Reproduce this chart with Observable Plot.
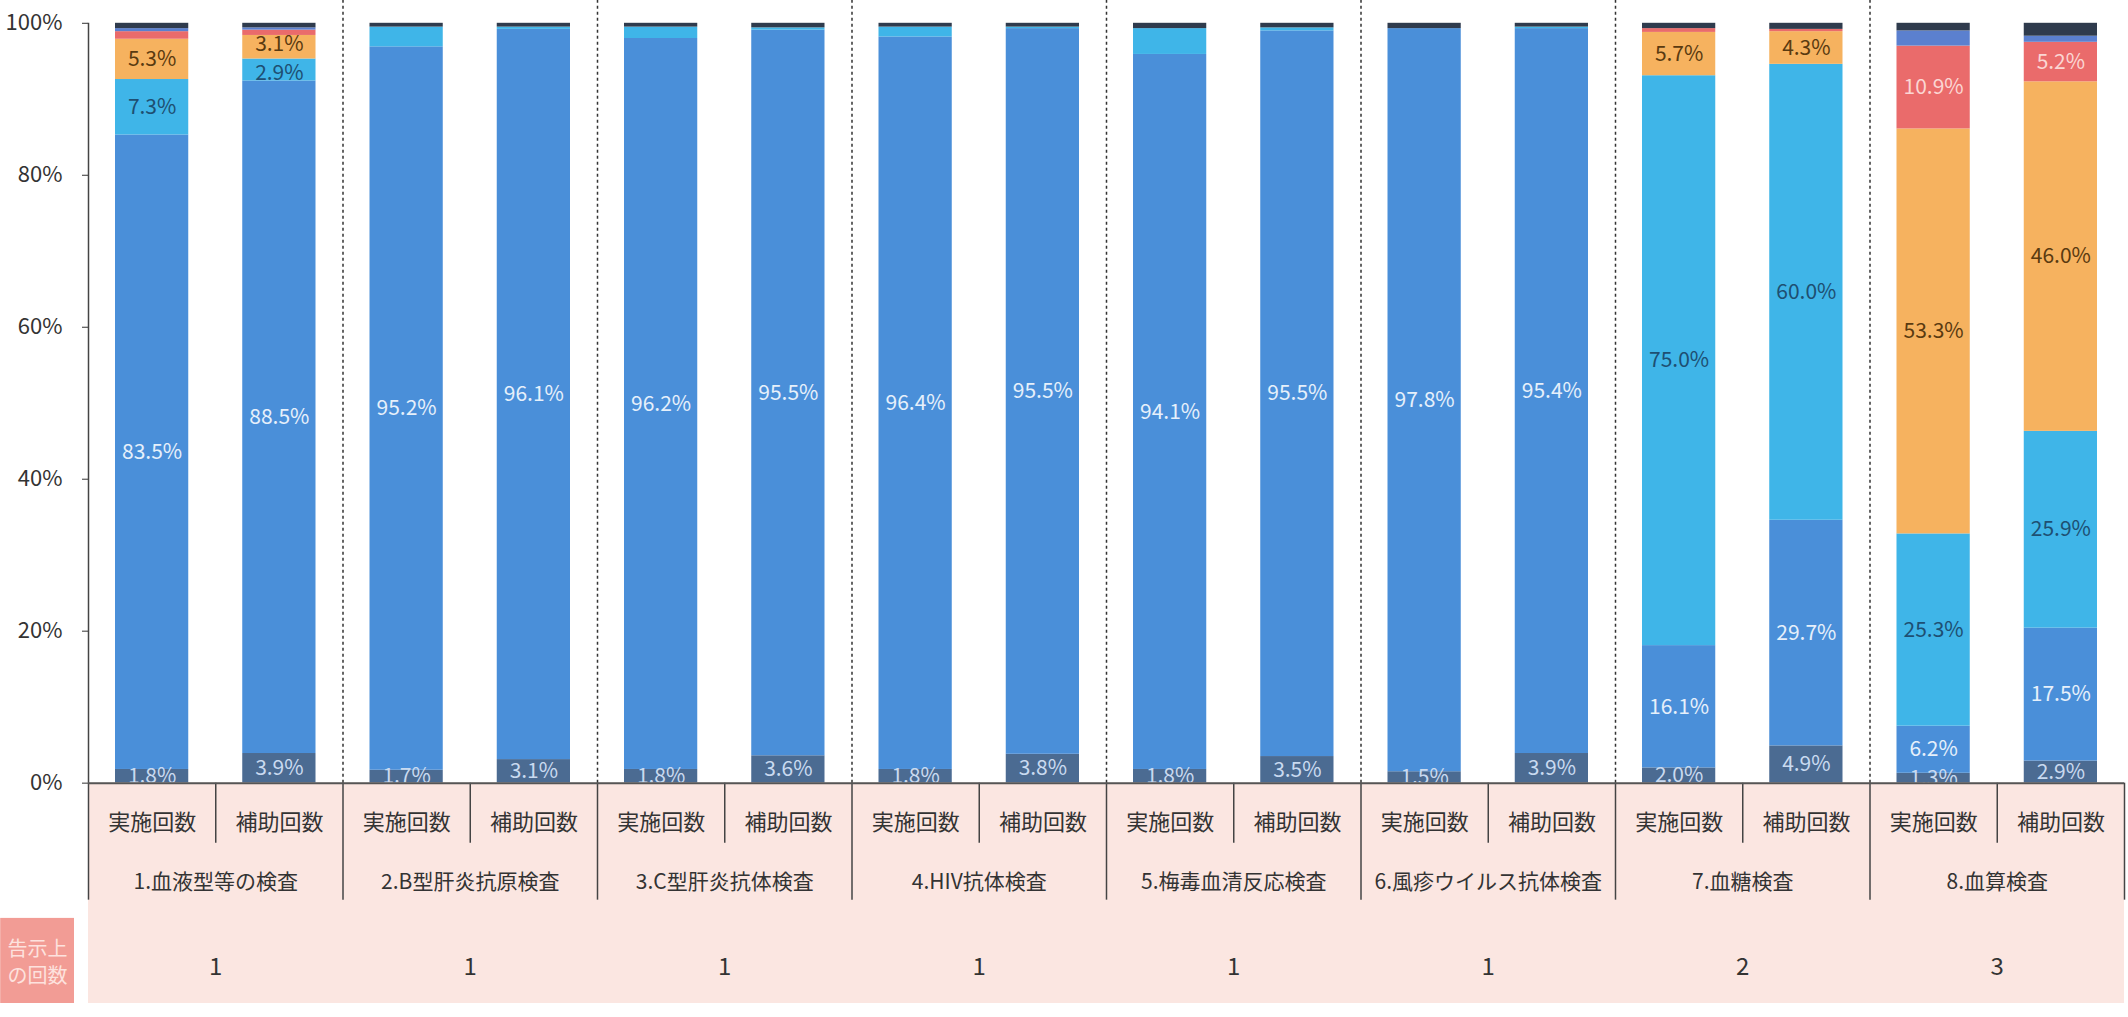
<!DOCTYPE html>
<html><head><meta charset="utf-8">
<script src="https://cdn.jsdelivr.net/npm/d3@7"></script>
<script src="https://cdn.jsdelivr.net/npm/@observablehq/plot@0.6"></script>
<style>
html,body{margin:0;padding:0;background:#fff;}
#chart{width:2128px;height:1017px;overflow:hidden;}
</style></head><body><div id="chart"></div>
<script>
// ---- data ----
const groups = ["1.血液型等の検査","2.B型肝炎抗原検査","3.C型肝炎抗体検査","4.HIV抗体検査","5.梅毒血清反応検査","6.風疹ウイルス抗体検査","7.血糖検査","8.血算検査"];
const kinds = ["実施回数","補助回数"];
const kokujiCounts = [1,1,1,1,1,1,2,3];
const kokujiLabel = "告示上\nの回数";
const seriesNames = ["0回","1回","2回","3回","4回","5回以上","無回答"];
const s0 = [1.8,3.9,1.7,3.1,1.8,3.6,1.8,3.8,1.8,3.5,1.5,3.9,2.0,4.9,1.3,2.9];
const s1 = [83.5,88.5,95.2,96.1,96.2,95.5,96.4,95.5,94.1,95.5,97.8,95.4,16.1,29.7,6.2,17.5];
const s2 = [7.3,2.9,2.6,0.3,1.5,0.3,1.3,0.2,3.4,0.4,0,0.2,75.0,60.0,25.3,25.9];
const s3 = [5.3,3.1,0,0,0,0,0,0,0,0,0,0,5.7,4.3,53.3,46.0];
const s4 = [1.0,0.7,0,0,0,0,0,0,0,0,0,0,0.5,0.3,10.9,5.2];
const s5 = [0.4,0.3,0,0,0,0,0,0,0,0,0,0,0,0,2.0,0.8];
const s6 = [0.7,0.6,0.5,0.5,0.5,0.6,0.5,0.5,0.7,0.6,0.7,0.5,0.7,0.8,1.0,1.7];
// which bars carry a printed value label, per series
const labelledBars = [
  d3.range(16), d3.range(16), [0,1,12,13,14,15], [0,1,12,13,14,15], [14,15], [], []
];
const yTicks = [0,20,40,60,80,100];

// ---- styles ----
const seriesColors = ["#4b6b92","#4a8fd9","#3fb5e8","#f6b25f","#ea6b6b","#5b80cf","#2f3b4d"];
const labelColors = ["#c9daf0","#e6f0fb","#1e4f72","#5a3a10","#fbd6d3","#fff","#fff"];
// small vertical nudge for labels in thin neighbouring segments (px)
const thinNudge = [0,0,3,-3,0,0,0];
const pink = "#fbe6e1";
const layout = {kindY:-5.3, shortDivY:-7.9, groupY:-13.1, groupDivY:-15.4, countY:-24.3, boxTop:-17.8, bottom:-29, top:103,
  boxX1:-0.69, boxX2:-0.11};

// ---- derived table ----
const allSeries = [s0,s1,s2,s3,s4,s5,s6];
const nBars = groups.length * kinds.length;
const segments = [];
for (let i = 0; i < nBars; i++) {
  let acc = 0;
  allSeries.forEach((arr, s) => {
    const v = arr[i];
    segments.push({i, s, value: v, y1: acc, y2: acc + v, labelled: labelledBars[s].includes(i)});
    acc += v;
  });
}
const bars = d3.range(nBars).map(i => ({i, g: Math.floor(i / kinds.length), k: i % kinds.length}));

const marks = [];
seriesNames.forEach((name, s) => {
  marks.push(Plot.rect(segments.filter(d => d.s === s && d.value > 0), {
    x1: d => d.i, x2: d => d.i + 1, y1: "y1", y2: "y2",
    fill: seriesColors[s], insetLeft: 27, insetRight: 27
  }));
});
seriesNames.forEach((name, s) => {
  const lab = segments.filter(d => d.s === s && d.labelled);
  marks.push(Plot.text(lab.filter(d => d.value >= 4), {
    x: d => d.i + 0.5, y: d => (d.y1 + d.y2) / 2,
    text: d => d.value.toFixed(1) + "%", fill: labelColors[s], fontSize: 21
  }));
  marks.push(Plot.text(lab.filter(d => d.value < 4), {
    x: d => d.i + 0.5, y: d => (d.y1 + d.y2) / 2, dy: thinNudge[s],
    text: d => d.value.toFixed(1) + "%", fill: labelColors[s], fontSize: 21
  }));
});
// table area
marks.push(Plot.rect([0], {x1: 0, x2: nBars, y1: layout.bottom, y2: 0, fill: pink}));
marks.push(Plot.rect([0], {x1: layout.boxX1, x2: layout.boxX2, y1: layout.bottom, y2: layout.boxTop, fill: "#f29c95"}));
marks.push(Plot.text([kokujiLabel], {x: (layout.boxX1 + layout.boxX2) / 2, y: (layout.bottom + layout.boxTop) / 2,
  text: d => d, fill: "#fde2de", fontSize: 20, lineHeight: 1.35}));
marks.push(Plot.text(bars, {x: d => d.i + 0.5, y: layout.kindY, text: d => kinds[d.k], fill: "#333", fontSize: 22}));
marks.push(Plot.text(groups, {x: (d, g) => g * kinds.length + kinds.length / 2, y: layout.groupY, text: d => d, fill: "#333", fontSize: 21}));
marks.push(Plot.text(kokujiCounts, {x: (d, g) => g * kinds.length + kinds.length / 2, y: layout.countY, text: d => String(d), fill: "#333", fontSize: 24}));
// dividers
marks.push(Plot.ruleX(d3.range(1, groups.length), {x: g => g * kinds.length, y1: 0, y2: layout.top,
  stroke: "#333", strokeWidth: 1.5, strokeDasharray: "3,3"}));
marks.push(Plot.ruleX(d3.range(0, groups.length + 1), {x: g => g * kinds.length, y1: layout.groupDivY, y2: 0,
  stroke: "#444", strokeWidth: 1.5}));
marks.push(Plot.ruleX(d3.range(groups.length), {x: g => g * kinds.length + 1, y1: layout.shortDivY, y2: 0,
  stroke: "#444", strokeWidth: 1.5}));
marks.push(Plot.ruleX([0], {y1: 0, y2: 100, stroke: "#444", strokeWidth: 1.5}));
marks.push(Plot.ruleY([0], {x1: 0, x2: nBars, stroke: "#555", strokeWidth: 2}));

const chart = Plot.plot({
  width: 2128, height: 1017,
  marginLeft: 88, marginRight: 4, marginTop: 0, marginBottom: 14,
  x: {type: "linear", domain: [0, nBars], axis: null},
  y: {domain: [layout.bottom, layout.top], ticks: yTicks, tickFormat: d => d + "%", tickSize: 6, tickPadding: 20, label: null},
  style: {fontFamily: "'Noto Sans CJK JP','Noto Sans',sans-serif", fontSize: "22px", color: "#333", background: "white"},
  marks
});
document.getElementById("chart").appendChild(chart);
</script>
</body></html>
